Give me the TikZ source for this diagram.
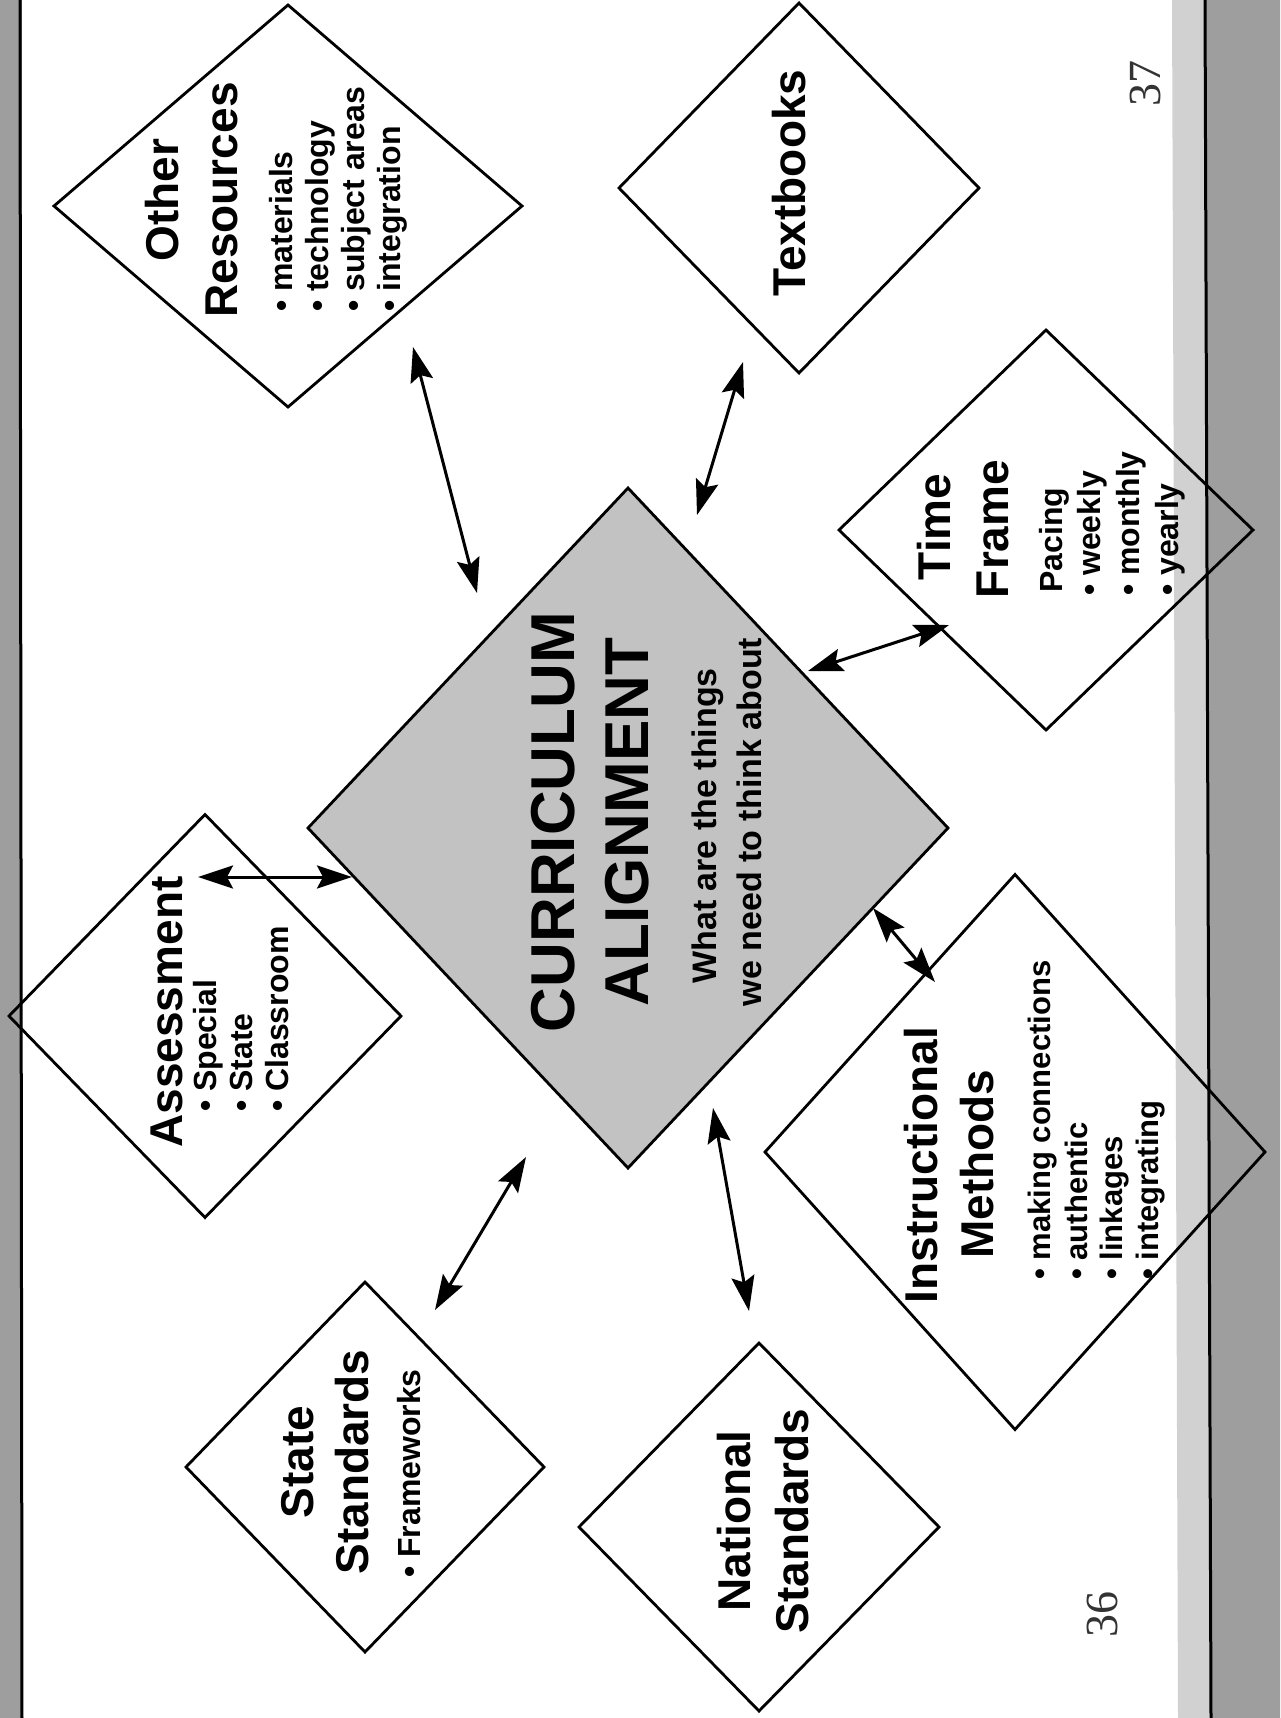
\documentclass[tikz,border=0pt]{standalone}
\usepackage{fontspec}
\setmainfont{Liberation Sans}
\newfontfamily\pnum{Liberation Serif}
\usetikzlibrary{arrows.meta,shapes.geometric}
\begin{document}
\begin{tikzpicture}[x=1pt,y=-1pt,
  box/.style={diamond, draw=black, line width=2.8pt, inner sep=0pt, outer sep=0pt},
  ttl/.style={rotate=90, inner sep=0pt, font=\fontsize{46}{56}\bfseries\selectfont, anchor=base},
  big/.style={rotate=90, inner sep=0pt, font=\fontsize{62}{70}\bfseries\selectfont, anchor=base},
  sub/.style={rotate=90, inner sep=0pt, font=\fontsize{34}{40}\bfseries\selectfont, anchor=base},
  itm/.style={rotate=90, inner sep=0pt, font=\fontsize{32}{36}\bfseries\selectfont, anchor=base west},
  pg/.style={rotate=90, inner sep=0pt, font=\fontsize{46}{50}\pnum\selectfont, text=black!80, anchor=base},
  link/.style={line width=3pt, {Stealth[length=35pt,width=23pt,inset=6pt]}-{Stealth[length=35pt,width=23pt,inset=6pt]}},
]
\useasboundingbox (0,0) rectangle (1280,1718);
\fill[white] (0,0) rectangle (1280,1718);
% page borders
\fill[black!38] (0,0) rectangle (22,1718);
\draw[line width=3pt] (20,0) -- (22,1718);
\fill[black!18] (1172,0) -- (1206,0) -- (1210,1718) -- (1178,1718) -- cycle;
\fill[black!38] (1206,0) -- (1280,0) -- (1280,1718) -- (1210,1718) -- cycle;
\draw[line width=3pt] (1205,0) -- (1211,1718);

% diamonds
\node[box, fill=black!24, minimum width=640pt, minimum height=680pt] (cur) at (628,828) {};
\node[box, minimum width=468pt, minimum height=402pt] (or) at (288,206) {};
\node[box, minimum width=360pt, minimum height=370pt] (tb) at (799,188) {};
\node[box, minimum width=414pt, minimum height=400pt] (tf) at (1046,530) {};
\node[box, minimum width=392pt, minimum height=403pt] (as) at (205,1016) {};
\node[box, minimum width=500pt, minimum height=555pt] (im) at (1015,1152) {};
\node[box, minimum width=358pt, minimum height=370pt] (ss) at (365,1467) {};
\node[box, minimum width=360pt, minimum height=368pt] (ns) at (759,1527) {};

% centre text
\node[big] (curA) at (574,822) {CURRICULUM};
\node[big] (curB) at (648,822) {ALIGNMENT};
\node[sub] (curC) at (716,826) {What are the things};
\node[sub] (curD) at (761,822) {we need to think about};

% Other Resources
\node[ttl] (orA) at (178,200) {Other};
\node[ttl] (orB) at (237,200) {Resources};
\node[itm] (or1) at (292,312) {• materials};
\node[itm] (or2) at (328,312) {• technology};
\node[itm] (or3) at (364,312) {• subject areas};
\node[itm] (or4) at (400,312) {• integration};

% Textbooks
\node[ttl] (tbA) at (805,183) {Textbooks};

% Time Frame
\node[ttl] (tfA) at (950,527) {Time};
\node[ttl] (tfB) at (1008,529) {Frame};
\node[itm] (tf0) at (1062,593) {Pacing};
\node[itm] (tf1) at (1100,596) {• weekly};
\node[itm] (tf2) at (1139,596) {• monthly};
\node[itm] (tf3) at (1178,596) {• yearly};

% Assessment
\node[ttl] (asA) at (182,1012) {Assessment};
\node[itm] (as1) at (216,1112) {• Special};
\node[itm] (as2) at (252,1112) {• State};
\node[itm] (as3) at (288,1112) {• Classroom};

% Instructional Methods
\node[ttl] (imA) at (937,1165) {Instructional};
\node[ttl] (imB) at (993,1164) {Methods};
\node[itm, font=\fontsize{31}{36}\bfseries\selectfont] (im1) at (1050,1280) {• making connections};
\node[itm, font=\fontsize{31}{36}\bfseries\selectfont] (im2) at (1087,1280) {• authentic};
\node[itm, font=\fontsize{31}{36}\bfseries\selectfont] (im3) at (1122,1280) {• linkages};
\node[itm, font=\fontsize{31}{36}\bfseries\selectfont] (im4) at (1158,1280) {• integrating};

% State Standards
\node[ttl] (ssA) at (313,1462) {State};
\node[ttl] (ssB) at (368,1462) {Standards};
\node[itm] (ss1) at (420,1578) {• Frameworks};

% National Standards
\node[ttl] (nsA) at (750,1521) {National};
\node[ttl] (nsB) at (808,1521) {Standards};

% page numbers
\node[pg] (p37) at (1160,84) {37};
\node[pg] (p36) at (1117,1614) {36};

% connector ends
\coordinate (e1a) at (413,347);  \coordinate (e1b) at (477,593);
\coordinate (e2a) at (743,362);  \coordinate (e2b) at (697,515);
\coordinate (e3a) at (949,625);  \coordinate (e3b) at (808,671);
\coordinate (e4a) at (198,877);  \coordinate (e4b) at (352,877);
\coordinate (e5a) at (873,908);  \coordinate (e5b) at (935,982);
\coordinate (e6a) at (713,1108); \coordinate (e6b) at (749,1311);
\coordinate (e7a) at (526,1157); \coordinate (e7b) at (435,1310);

\draw[link] (e1a) -- (e1b);
\draw[link] (e2a) -- (e2b);
\draw[link] (e3a) -- (e3b);
\draw[link] (e4a) -- (e4b);
\draw[link] (e5a) -- (e5b);
\draw[link] (e6a) -- (e6b);
\draw[link] (e7a) -- (e7b);
\end{tikzpicture}
\end{document}
